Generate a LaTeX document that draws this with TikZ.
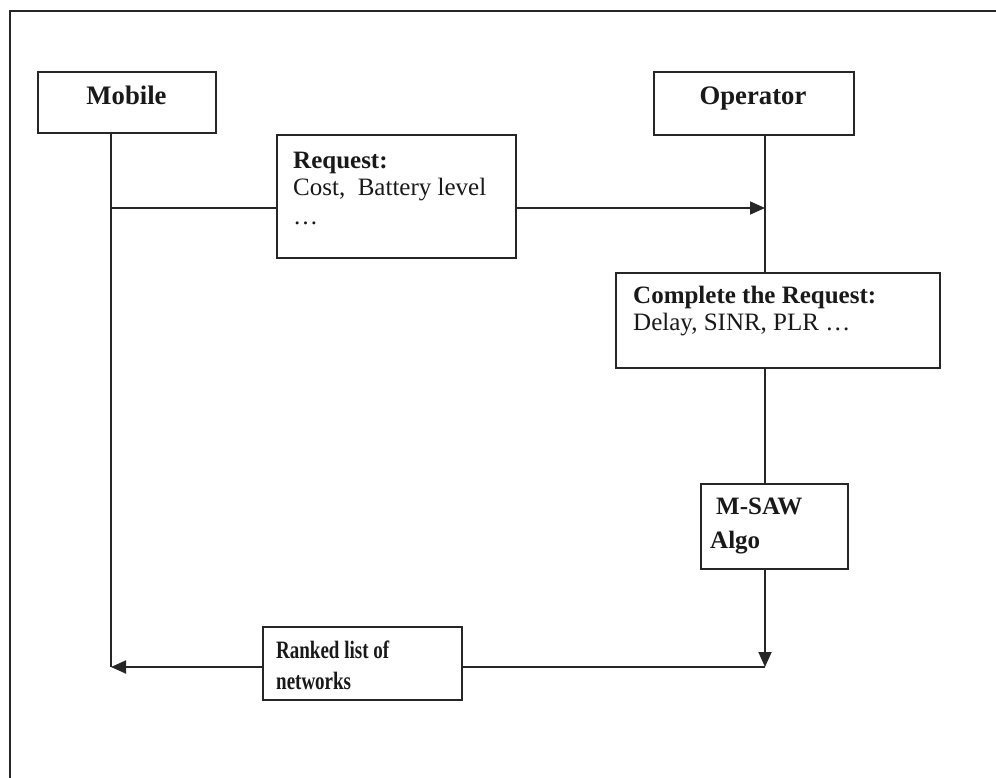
\documentclass[tikz,border=0pt]{standalone}
\usepackage{fontspec}
\setmainfont{Liberation Serif}
\newfontfamily\narrowserif[FakeStretch=0.76]{Liberation Serif}
\usetikzlibrary{arrows.meta}
\begin{document}
\begin{tikzpicture}[x=1pt,y=-1pt,
  ink/.style={draw=black!85, line width=1.8pt},
  box/.style={ink, fill=white, inner sep=0pt, anchor=north west},
  flow/.style={ink, -{Triangle[length=15pt,width=13pt]}},
  txt/.style={anchor=base west, inner sep=0pt, text=black!90,
              font=\fontsize{25}{27}\selectfont},
  head/.style={txt, font=\fontsize{25}{27}\selectfont\bfseries},
  title/.style={txt, anchor=base, font=\fontsize{26.7}{28}\selectfont\bfseries},
  narrowhead/.style={txt, font=\fontsize{25}{27}\selectfont\narrowserif\bfseries}]
\useasboundingbox (0,0) rectangle (996,778);

% outer frame (top and left edges)
\coordinate (frameTR) at (996,11);
\coordinate (frameTL) at (10,11);
\coordinate (frameBL) at (10,778);
\draw[ink] (frameTR) -- (frameTL) -- (frameBL);

% boxes
\node[box, minimum width=178pt, minimum height=61pt] (mobile)   at (37,71)   {};
\node[box, minimum width=200pt, minimum height=63pt] (operator) at (653,71)  {};
\node[box, minimum width=239pt, minimum height=123pt] (request) at (276,134) {};
\node[box, minimum width=324pt, minimum height=95pt] (complete) at (615,272) {};
\node[box, minimum width=147pt, minimum height=85pt] (msaw)     at (700,483) {};
\node[box, minimum width=199pt, minimum height=73pt] (ranked)   at (262,626) {};

% box texts
\node[title] (mobileT)   at (126.5,105) {Mobile};
\node[title] (operatorT) at (753,105)   {Operator};
\node[head] (requestT1) at (293,169) {Request:};
\node[txt]  (requestT2) at (293,196) {Cost,\ \ Battery level};
\node[txt]  (requestT3) at (293,225) {…};
\node[head] (completeT1) at (633,303) {Complete the Request:};
\node[txt]  (completeT2) at (633,330) {Delay, SINR, PLR …};
\node[head] (msawT1) at (716,514) {M-SAW};
\node[head] (msawT2) at (710,548) {Algo};
\node[narrowhead] (rankedT1) at (276,658) {Ranked list of};
\node[narrowhead] (rankedT2) at (276,689) {networks};

% lifeline anchors
\coordinate (mreq) at (111,208);
\coordinate (oreq) at (765,208);
\coordinate (mret) at (111,667);
\coordinate (oret) at (765,667);

% mobile lifeline
\draw[ink] (mobile.south -| mret) -- (mret);

% operator lifeline
\draw[ink] (operator.south -| oreq) -- (complete.north -| oreq);
\draw[ink] (complete.south -| oreq) -- (msaw.north -| oreq);
\draw[flow] (msaw.south -| oret) -- (oret);

% request message
\draw[ink] (mreq) -- (request.west |- mreq);
\draw[flow] (request.east |- mreq) -- (oreq);

% ranked list back to the mobile
\draw[ink] (oret) -- (ranked.east |- oret);
\draw[flow] (ranked.west |- oret) -- (mret);
\end{tikzpicture}
\end{document}
